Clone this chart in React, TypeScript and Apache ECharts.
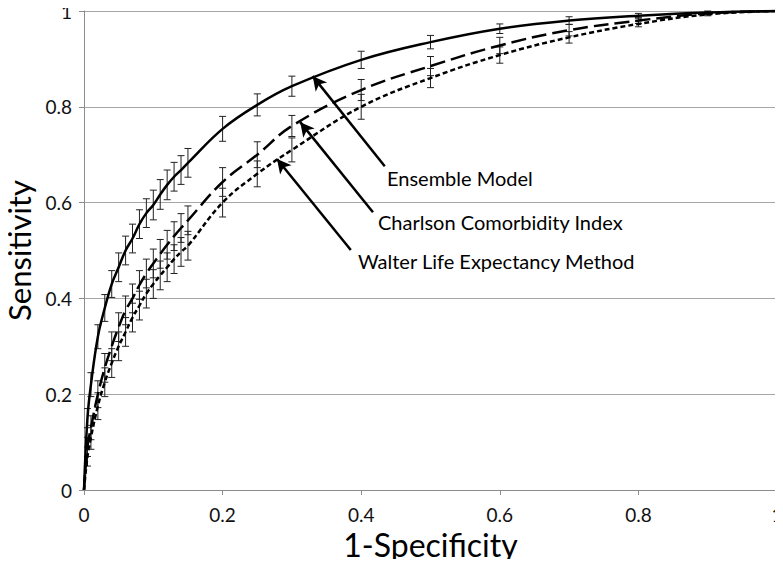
import React, { useEffect, useRef } from "react";
import * as echarts from "echarts";

const fpr = [0, 0.005, 0.01, 0.02, 0.03, 0.04, 0.05, 0.06, 0.07, 0.08, 0.09, 0.1, 0.11, 0.12, 0.13, 0.14, 0.15, 0.2, 0.25, 0.3, 0.4, 0.5, 0.6, 0.7, 0.8, 0.9, 1];

const ensembleSens = [0, 0.15, 0.22, 0.32, 0.38, 0.43, 0.465, 0.5, 0.525, 0.555, 0.578, 0.595, 0.617, 0.637, 0.654, 0.668, 0.683, 0.754, 0.804, 0.843, 0.898, 0.935, 0.963, 0.98, 0.99, 0.997, 1];
const ensembleErr = [0, 0.02, 0.025, 0.025, 0.028, 0.028, 0.03, 0.03, 0.03, 0.03, 0.03, 0.031, 0.031, 0.031, 0.03, 0.03, 0.03, 0.026, 0.023, 0.021, 0.018, 0.014, 0.01, 0.008, 0.005, 0.003, 0];

const charlsonSens = [0, 0.09, 0.13, 0.2, 0.255, 0.3, 0.34, 0.375, 0.4, 0.428, 0.452, 0.473, 0.493, 0.512, 0.53, 0.547, 0.563, 0.643, 0.7, 0.76, 0.835, 0.885, 0.928, 0.96, 0.98, 0.995, 1];
const charlsonErr = [0, 0.02, 0.025, 0.028, 0.03, 0.03, 0.03, 0.03, 0.03, 0.03, 0.03, 0.03, 0.03, 0.03, 0.03, 0.03, 0.03, 0.03, 0.027, 0.022, 0.022, 0.02, 0.017, 0.012, 0.006, 0.003, 0];

const walterSens = [0, 0.07, 0.11, 0.175, 0.225, 0.265, 0.3, 0.33, 0.36, 0.385, 0.41, 0.43, 0.448, 0.465, 0.482, 0.497, 0.51, 0.6, 0.66, 0.71, 0.8, 0.86, 0.908, 0.945, 0.973, 0.993, 1];
const walterErr = [0, 0.02, 0.025, 0.028, 0.03, 0.03, 0.03, 0.03, 0.03, 0.03, 0.03, 0.03, 0.03, 0.03, 0.03, 0.03, 0.03, 0.03, 0.027, 0.025, 0.026, 0.02, 0.017, 0.012, 0.006, 0.003, 0];

const tickLabels = ["0", "0.2", "0.4", "0.6", "0.8", "1"];

// annotation arrows: [tailX, tailY, tipX, tipY] in data units
const ensembleArrow = [0.434, 0.676, 0.33, 0.864];
const charlsonArrow = [0.417, 0.58, 0.312, 0.768];
const walterArrow = [0.385, 0.501, 0.2785, 0.691];

const FONT = "Lato, 'Open Sans', sans-serif";

function errData(sens: number[], err: number[]) {
  const out: number[][] = [];
  fpr.forEach((x, i) => {
    if (err[i] > 0) out.push([x, sens[i] - err[i], sens[i] + err[i]]);
  });
  return out;
}

function errorSeries(sens: number[], err: number[]) {
  return {
    type: "custom",
    silent: true,
    z: 1,
    data: errData(sens, err),
    renderItem: (params: any, api: any) => {
      const x = api.value(0);
      const lo = api.coord([x, api.value(1)]);
      const hi = api.coord([x, api.value(2)]);
      const w = 3.5;
      const style = { stroke: "#222", lineWidth: 1 };
      return {
        type: "group",
        children: [
          { type: "line", shape: { x1: lo[0], y1: lo[1], x2: hi[0], y2: hi[1] }, style },
          { type: "line", shape: { x1: lo[0] - w, y1: lo[1], x2: lo[0] + w, y2: lo[1] }, style },
          { type: "line", shape: { x1: hi[0] - w, y1: hi[1], x2: hi[0] + w, y2: hi[1] }, style },
        ],
      };
    },
  };
}

function lineData(sens: number[]) {
  return fpr.map((x, i) => [x, sens[i]]);
}

function arrowPair(a: number[]) {
  return [{ coord: [a[0], a[1]] }, { coord: [a[2], a[3]] }];
}

const fmt = (v: number) => tickLabels[Math.round(v / 0.2)] ?? "";

export default function App() {
  const ref = useRef<HTMLDivElement>(null);
  useEffect(() => {
    if (!ref.current) return;
    const chart = echarts.init(ref.current, undefined, { renderer: "svg" });
    chart.setOption({
      animation: false,
      backgroundColor: "#fff",
      grid: { left: 84, right: 6, top: 11, bottom: 77, containLabel: false, outerBoundsMode: "none" },
      xAxis: {
        type: "value",
        min: 0,
        max: 1,
        interval: 0.2,
        name: "1-Specificity",
        nameLocation: "middle",
        nameGap: 30,
        nameTextStyle: { fontFamily: FONT, fontSize: 32, color: "#000" },
        axisLine: { show: true, lineStyle: { color: "#8c8c8c", width: 1 } },
        axisTick: { show: true, length: 5, lineStyle: { color: "#8c8c8c" } },
        axisLabel: { fontFamily: FONT, fontSize: 19, color: "#111", margin: 15, formatter: fmt },
        splitLine: { show: false },
      },
      yAxis: {
        type: "value",
        min: 0,
        max: 1,
        interval: 0.2,
        name: "Sensitivity",
        nameLocation: "middle",
        nameGap: 50,
        nameTextStyle: { fontFamily: FONT, fontSize: 31, color: "#000" },
        axisLine: { show: true, lineStyle: { color: "#8c8c8c", width: 1 } },
        axisTick: { show: true, length: 5, lineStyle: { color: "#8c8c8c" } },
        axisLabel: { fontFamily: FONT, fontSize: 19, color: "#111", margin: 12, formatter: fmt },
        splitLine: { show: true, lineStyle: { color: "#a6a6a6", width: 1 } },
      },
      graphic: [
        { type: "text", left: 387, top: 168, style: { text: "Ensemble Model", font: `20px ${FONT}`, fill: "#000" } },
        { type: "text", left: 378, top: 212, style: { text: "Charlson Comorbidity Index", font: `20px ${FONT}`, fill: "#000" } },
        { type: "text", left: 358, top: 251, style: { text: "Walter Life Expectancy Method", font: `20px ${FONT}`, fill: "#000" } },
      ],
      series: [
        errorSeries(ensembleSens, ensembleErr),
        errorSeries(charlsonSens, charlsonErr),
        errorSeries(walterSens, walterErr),
        {
          name: "Ensemble Model",
          type: "line",
          data: lineData(ensembleSens),
          showSymbol: false,
          smooth: 0.4,
          z: 3,
          lineStyle: { color: "#000", width: 2.5, type: "solid" },
          markLine: {
            silent: true,
            symbol: ["none", "arrow"],
            symbolSize: [11, 14],
            label: { show: false },
            lineStyle: { color: "#000", width: 2.5, type: "solid" },
            data: [arrowPair(ensembleArrow), arrowPair(charlsonArrow), arrowPair(walterArrow)],
          },
        },
        {
          name: "Charlson Comorbidity Index",
          type: "line",
          data: lineData(charlsonSens),
          showSymbol: false,
          smooth: 0.4,
          z: 3,
          lineStyle: { color: "#000", width: 2.5, type: [15, 6] },
        },
        {
          name: "Walter Life Expectancy Method",
          type: "line",
          data: lineData(walterSens),
          showSymbol: false,
          smooth: 0.4,
          z: 3,
          lineStyle: { color: "#000", width: 2.5, type: [5, 3] },
        },
      ],
    });
    return () => chart.dispose();
  }, []);
  return <div ref={ref} style={{ width: 783, height: 567, margin: -8 }} />;
}
